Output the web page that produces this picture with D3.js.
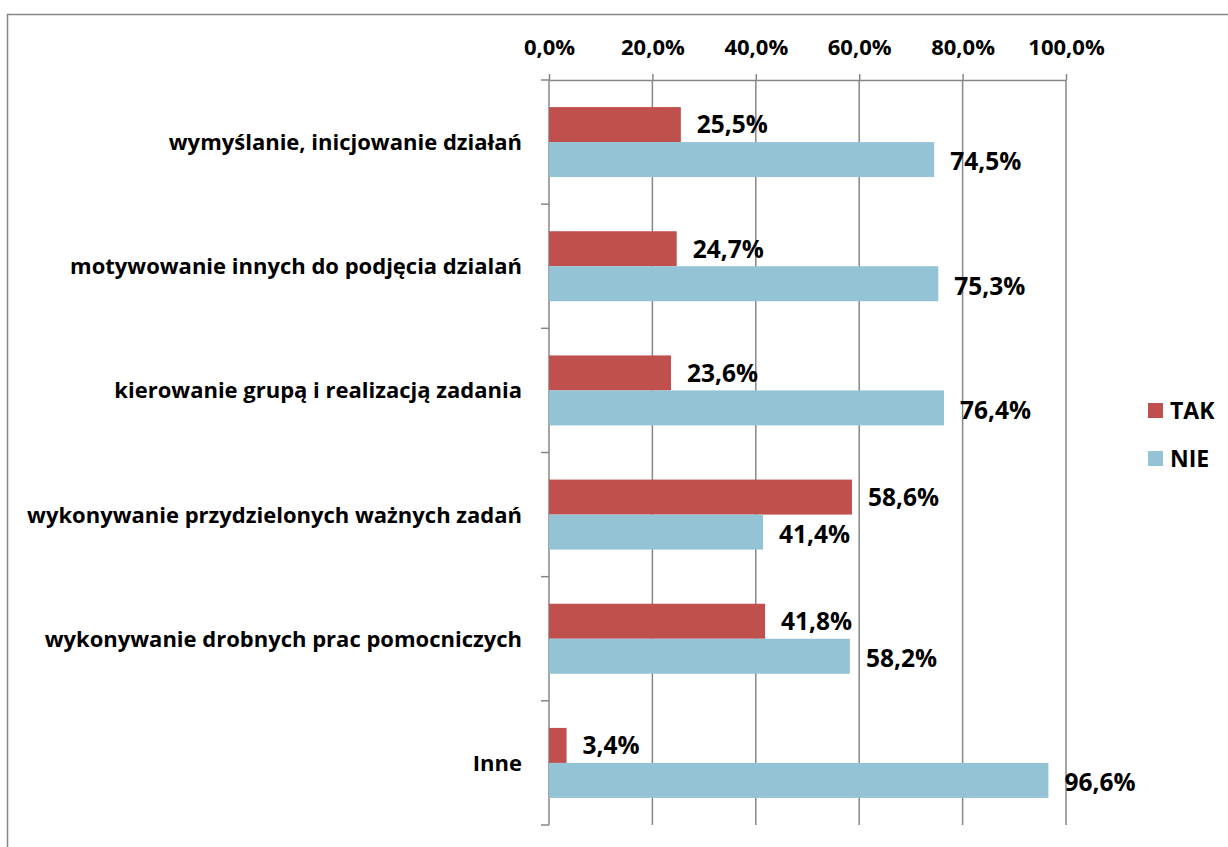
<!DOCTYPE html>
<html>
<head>
<meta charset="utf-8">
<script src="https://cdn.jsdelivr.net/npm/d3@7"></script>
<style>
  body { margin: 0; background: #fff; }
  text { font-family: "Open Sans", Lato, sans-serif; font-weight: bold; fill: #000; }
</style>
</head>
<body>
<div id="chart"></div>
<script>
// data
var categories = [
  "wymyślanie, inicjowanie działań",
  "motywowanie innych do podjęcia dzialań",
  "kierowanie grupą i realizacją zadania",
  "wykonywanie przydzielonych ważnych zadań",
  "wykonywanie drobnych prac pomocniczych",
  "Inne"
];
var takValues = [25.5, 24.7, 23.6, 58.6, 41.8, 3.4];
var nieValues = [74.5, 75.3, 76.4, 41.4, 58.2, 96.6];
var seriesNames = ["TAK", "NIE"];
var xTicks = [0, 20, 40, 60, 80, 100];

var svgWidth = 1228;
var svgHeight = 847;
var margin = { top: 80, right: 162, bottom: 22, left: 549 };
var width = 1066 - margin.left;
var height = 825 - margin.top;
var colors = ["#C0504D", "#93C3D5"];

var svg = d3.select("#chart")
  .append("svg")
  .attr("width", svgWidth)
  .attr("height", svgHeight);

// outer border
svg.append("rect")
  .attr("x", 7.5).attr("y", 14.5)
  .attr("width", svgWidth).attr("height", svgHeight)
  .attr("fill", "none")
  .attr("stroke", "#888")
  .attr("stroke-width", 1.5);

var chartGroup = svg.append("g")
  .attr("transform", `translate(${margin.left}, ${margin.top})`);

var fmt = v => v.toFixed(1).replace(".", ",") + "%";

var data = categories.map((c, i) => ({ cat: c, values: [takValues[i], nieValues[i]] }));

var xScale = d3.scaleLinear().domain([0, 100]).range([0, width]);
var yScale = d3.scaleBand().domain(categories).range([0, height]).paddingInner(0).paddingOuter(0);
var barH = 35;

// vertical gridlines
chartGroup.selectAll(".grid")
  .data(xTicks.slice(1))
  .enter()
  .append("line")
  .attr("x1", d => xScale(d)).attr("x2", d => xScale(d))
  .attr("y1", 0).attr("y2", height)
  .attr("stroke", "#878787")
  .attr("stroke-width", 1.5);

// top axis
var topAxis = d3.axisTop(xScale)
  .tickValues(xTicks)
  .tickSize(6)
  .tickSizeOuter(0)
  .tickFormat(fmt);

var gx = chartGroup.append("g").call(topAxis);
gx.select(".domain").attr("stroke", "#878787").attr("stroke-width", 1.5);
gx.selectAll(".tick line").attr("stroke", "#878787").attr("stroke-width", 1.5);
gx.selectAll(".tick text")
  .attr("font-family", null)
  .attr("font-size", 22)
  .attr("y", -25)
  .attr("dy", 0);

// left axis with ticks between categories
var gy = chartGroup.append("g");
gy.append("line")
  .attr("x1", 0).attr("x2", 0).attr("y1", 0).attr("y2", height)
  .attr("stroke", "#878787").attr("stroke-width", 1.5);
gy.selectAll(".ytick")
  .data(d3.range(categories.length + 1))
  .enter()
  .append("line")
  .attr("x1", -8).attr("x2", 0)
  .attr("y1", d => d * yScale.step()).attr("y2", d => d * yScale.step())
  .attr("stroke", "#878787").attr("stroke-width", 1.5);

gy.selectAll(".ylabel")
  .data(categories)
  .enter()
  .append("text")
  .attr("x", -27)
  .attr("y", d => yScale(d) + yScale.bandwidth() / 2)
  .attr("dy", "0.36em")
  .attr("text-anchor", "end")
  .attr("font-size", 22)
  .text(d => d);

// bars
var groups = chartGroup.selectAll(".cat")
  .data(data)
  .enter()
  .append("g")
  .attr("transform", d => `translate(0, ${yScale(d.cat) + yScale.bandwidth() / 2 - barH})`);

groups.selectAll("rect")
  .data(d => d.values)
  .enter()
  .append("rect")
  .attr("x", 0)
  .attr("y", (d, i) => i * barH)
  .attr("width", d => xScale(d))
  .attr("height", barH)
  .attr("fill", (d, i) => colors[i]);

groups.selectAll(".val")
  .data(d => d.values)
  .enter()
  .append("text")
  .attr("x", d => xScale(d) + 16)
  .attr("y", (d, i) => i * barH + barH / 2 + (i == 1 ? 2 : 0))
  .attr("dy", "0.36em")
  .attr("font-size", 24.5)
  .text(d => fmt(d));

// legend
var legend = svg.selectAll(".legend")
  .data(seriesNames)
  .enter()
  .append("g")
  .attr("transform", (d, i) => `translate(1148, ${403 + i * 48})`);

legend.append("rect")
  .attr("width", 15).attr("height", 15)
  .attr("fill", (d, i) => colors[i]);

legend.append("text")
  .attr("x", 22)
  .attr("y", 8)
  .attr("dy", "0.36em")
  .attr("font-size", 23)
  .text(d => d);
</script>
</body>
</html>
